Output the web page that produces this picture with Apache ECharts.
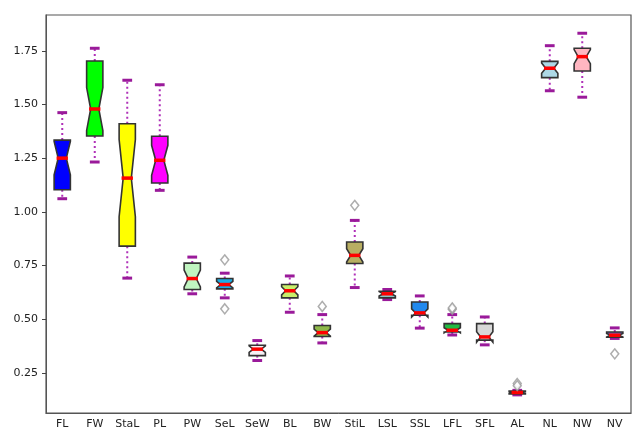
<!DOCTYPE html>
<html>
<head>
<meta charset="utf-8">
<script src="https://cdn.jsdelivr.net/npm/echarts@6/dist/echarts.min.js"></script>
<style>
  html, body { margin: 0; padding: 0; background: #fff; }
  #main { width: 639px; height: 437px; }
</style>
</head>
<body>
<div id="main"></div>
<script>
// categories and box statistics
const categories = ["FL", "FW", "StaL", "PL", "PW", "SeL", "SeW", "BL", "BW", "StiL", "LSL", "SSL", "LFL", "SFL", "AL", "NL", "NW", "NV"];
const lowWhisker = [1.061, 1.232, 0.691, 1.100, 0.618, 0.599, 0.307, 0.532, 0.389, 0.647, 0.591, 0.458, 0.426, 0.380, 0.147, 1.564, 1.534, 0.410];
const q1 = [1.103, 1.353, 0.840, 1.134, 0.638, 0.641, 0.330, 0.599, 0.419, 0.759, 0.599, 0.518, 0.440, 0.402, 0.151, 1.625, 1.656, 0.416];
const median = [1.250, 1.479, 1.157, 1.240, 0.689, 0.661, 0.360, 0.632, 0.437, 0.797, 0.618, 0.529, 0.448, 0.417, 0.158, 1.669, 1.723, 0.425];
const q3 = [1.334, 1.703, 1.410, 1.352, 0.761, 0.689, 0.378, 0.661, 0.470, 0.859, 0.630, 0.580, 0.479, 0.479, 0.165, 1.701, 1.762, 0.440];
const highWhisker = [1.462, 1.762, 1.613, 1.592, 0.789, 0.714, 0.400, 0.701, 0.521, 0.960, 0.638, 0.608, 0.521, 0.510, 0.168, 1.774, 1.832, 0.459];
// half height of each notch around the median
const notch = [0.078, 0.10, 0.18, 0.070, 0.039, 0.015, 0.015, 0.019, 0.016, 0.031, 0.010, 0.019, 0.012, 0.024, 0.004, 0.024, 0.033, 0.008];
// outliers: [category index, value]
const outliers = [[5, 0.776], [5, 0.548], [8, 0.559], [9, 1.030], [12, 0.546], [12, 0.552], [14, 0.200], [14, 0.190], [17, 0.338]];
const yTicks = [0.25, 0.50, 0.75, 1.00, 1.25, 1.50, 1.75];

const boxColors = ["#0000ff", "#00ff00", "#ffff00", "#ff00ff", "#c0f5c0", "#1aade6", "#f6f0f6", "#c8ee6a", "#8fb84a", "#b8ae62",
  "#88c8c8", "#2288ee", "#22bb44", "#d8d8d8", "#cc1111", "#add8e6", "#ffb6c1", "#7060d0"];

const boxData = categories.map((c, i) => [i, lowWhisker[i], q1[i], median[i], q3[i], highWhisker[i], notch[i]]);

const purple = "#9a1a9a";

function renderBox(params, api) {
  const idx = api.value(0);
  const at = v => api.coord([idx, v]);
  const x = at(0)[0];
  const band = api.size([1, 0])[0];
  const hw = band * 0.25;
  const cw = band * 0.15;
  const low = at(api.value(1))[1];
  const b1 = at(api.value(2))[1];
  const med = at(api.value(3))[1];
  const b3 = at(api.value(4))[1];
  const high = at(api.value(5))[1];
  const nLo = at(api.value(3) - api.value(6))[1];
  const nHi = at(api.value(3) + api.value(6))[1];
  const dotted = { stroke: "#b030b8", lineWidth: 2, lineDash: [2, 3] };
  const cap = { stroke: purple, lineWidth: 3 };
  return {
    type: "group",
    children: [
      { type: "line", shape: { x1: x, y1: b3, x2: x, y2: high }, style: dotted },
      { type: "line", shape: { x1: x, y1: b1, x2: x, y2: low }, style: dotted },
      { type: "line", shape: { x1: x - cw, y1: high, x2: x + cw, y2: high }, style: cap },
      { type: "line", shape: { x1: x - cw, y1: low, x2: x + cw, y2: low }, style: cap },
      {
        type: "polygon",
        shape: {
          points: [[x - hw, b1], [x + hw, b1], [x + hw, nLo], [x + hw / 2, med], [x + hw, nHi], [x + hw, b3],
            [x - hw, b3], [x - hw, nHi], [x - hw / 2, med], [x - hw, nLo]]
        },
        style: { fill: boxColors[idx], stroke: "#333", lineWidth: 1.6 }
      },
      { type: "line", shape: { x1: x - hw * 0.7, y1: med, x2: x + hw * 0.7, y2: med }, style: { stroke: "#ff0000", lineWidth: 3.5 } }
    ]
  };
}

const chart = echarts.init(document.getElementById("main"));
chart.setOption({
  animation: false,
  textStyle: { fontFamily: "DejaVu Sans" },
  grid: { left: 46, right: 8, top: 15, bottom: 24, show: true, borderColor: "#555", borderWidth: 1.2, backgroundColor: "#fff" },
  xAxis: {
    type: "category",
    data: categories,
    boundaryGap: true,
    axisLine: { lineStyle: { color: "#555" } },
    axisTick: { alignWithLabel: true, length: 4, lineStyle: { color: "#444" } },
    axisLabel: { color: "#222", fontSize: 11, margin: 6 },
    splitLine: { show: false }
  },
  yAxis: {
    type: "value",
    min: 0.0625,
    max: 1.917,
    axisLine: { show: true, lineStyle: { color: "#555" } },
    axisTick: { show: true, length: 4, customValues: yTicks, lineStyle: { color: "#444" } },
    axisLabel: { color: "#222", fontSize: 11, margin: 8, customValues: yTicks, formatter: v => v.toFixed(2) },
    splitLine: { show: false }
  },
  series: [
    {
      type: "custom",
      renderItem: renderBox,
      data: boxData,
      encode: { x: 0, y: [1, 2, 3, 4, 5] },
      z: 2
    },
    {
      type: "scatter",
      data: outliers,
      symbol: "diamond",
      symbolSize: [8, 10],
      itemStyle: { color: "#fff", borderColor: "#999", borderWidth: 1.5 },
      z: 3
    }
  ]
});
</script>
</body>
</html>
